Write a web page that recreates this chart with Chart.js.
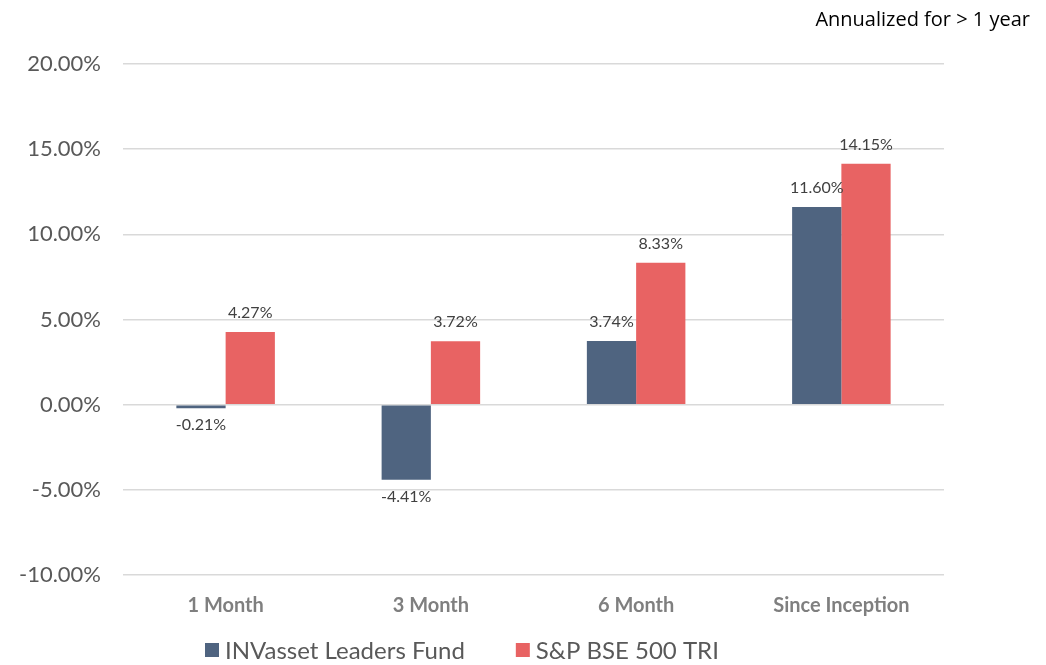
<!DOCTYPE html>
<html>
<head>
<meta charset="utf-8">
<script src="https://cdn.jsdelivr.net/npm/chart.js@4"></script>
<style>
  html, body { margin: 0; padding: 0; background: #fff; }
  #wrap { width: 1046px; height: 665px; position: relative; }
</style>
</head>
<body>
<div id="wrap"><canvas id="canvass"></canvas></div>
<script>
// periods and returns (%)
var periods = ['1 Month', '3 Month', '6 Month', 'Since Inception'];
var fundReturns = [-0.21, -4.41, 3.74, 11.60];
var indexReturns = [4.27, 3.72, 8.33, 14.15];
var seriesNames = ['INVasset Leaders Fund', 'S&P BSE 500 TRI'];
var seriesColors = ['#4F6480', '#E86363'];
var yTicks = [-10, -5, 0, 5, 10, 15, 20];
var note = 'Annualized for > 1 year';

// value labels, legend and the note at top right
var labelPlugin = {
    id: 'valueLabels',
    afterDatasetsDraw: function (chart) {
        var ctx = chart.ctx;
        ctx.save();
        ctx.font = '16px Lato';
        ctx.fillStyle = '#404040';
        ctx.textAlign = 'center';
        ctx.textBaseline = 'middle';
        chart.data.datasets.forEach(function (ds, i) {
            chart.getDatasetMeta(i).data.forEach(function (bar, j) {
                var v = ds.data[j];
                var y = v >= 0 ? bar.y - 19 : bar.y + 17;
                ctx.fillText(v.toFixed(2) + '%', bar.x, y);
            });
        });

        // legend
        ctx.font = '24px Lato';
        ctx.textAlign = 'left';
        var x = 205;
        chart.data.datasets.forEach(function (ds) {
            ctx.fillStyle = ds.backgroundColor;
            ctx.fillRect(x, 643, 14, 14);
            ctx.fillStyle = '#595959';
            ctx.fillText(ds.label, x + 20, 651);
            x += 20 + ctx.measureText(ds.label).width + 51;
        });

        ctx.font = '20px "Open Sans"';
        ctx.fillStyle = '#000';
        ctx.textAlign = 'right';
        ctx.fillText(note, 1030, 20);
        ctx.restore();
    }
};

var ctx = document.getElementById('canvass').getContext('2d');
var myChart = new Chart(ctx, {
    type: 'bar',
    data: {
        labels: periods,
        datasets: [{
            label: seriesNames[0],
            data: fundReturns,
            backgroundColor: seriesColors[0],
            borderWidth: 0
        }, {
            label: seriesNames[1],
            data: indexReturns,
            backgroundColor: seriesColors[1],
            borderWidth: 0
        }]
    },
    options: {
        responsive: true,
        maintainAspectRatio: false,
        animation: false,
        layout: { padding: { top: 64, right: 102, left: 0, bottom: 46 } },
        datasets: { bar: { barPercentage: 1, categoryPercentage: 0.48 } },
        scales: {
            x: {
                grid: { display: false, drawTicks: false },
                border: { display: false },
                ticks: {
                    color: '#7F7F7F',
                    font: { family: 'Lato', size: 20, weight: 'bold' },
                    padding: 19
                },
                afterFit: function (s) { s.height = 44; }
            },
            y: {
                min: -10,
                max: 20,
                afterBuildTicks: function (s) {
                    s.ticks = yTicks.map(function (v) { return { value: v }; });
                },
                grid: { color: '#D9D9D9', lineWidth: 1.5, drawTicks: false },
                border: { display: false },
                ticks: {
                    color: '#595959',
                    font: { family: 'Lato', size: 22 },
                    padding: 22,
                    callback: function (v) { return v.toFixed(2) + '%'; }
                },
                afterFit: function (s) { s.width = 123; }
            }
        },
        plugins: {
            legend: { display: false },
            tooltip: { enabled: false }
        }
    },
    plugins: [labelPlugin]
});
</script>
</body>
</html>
